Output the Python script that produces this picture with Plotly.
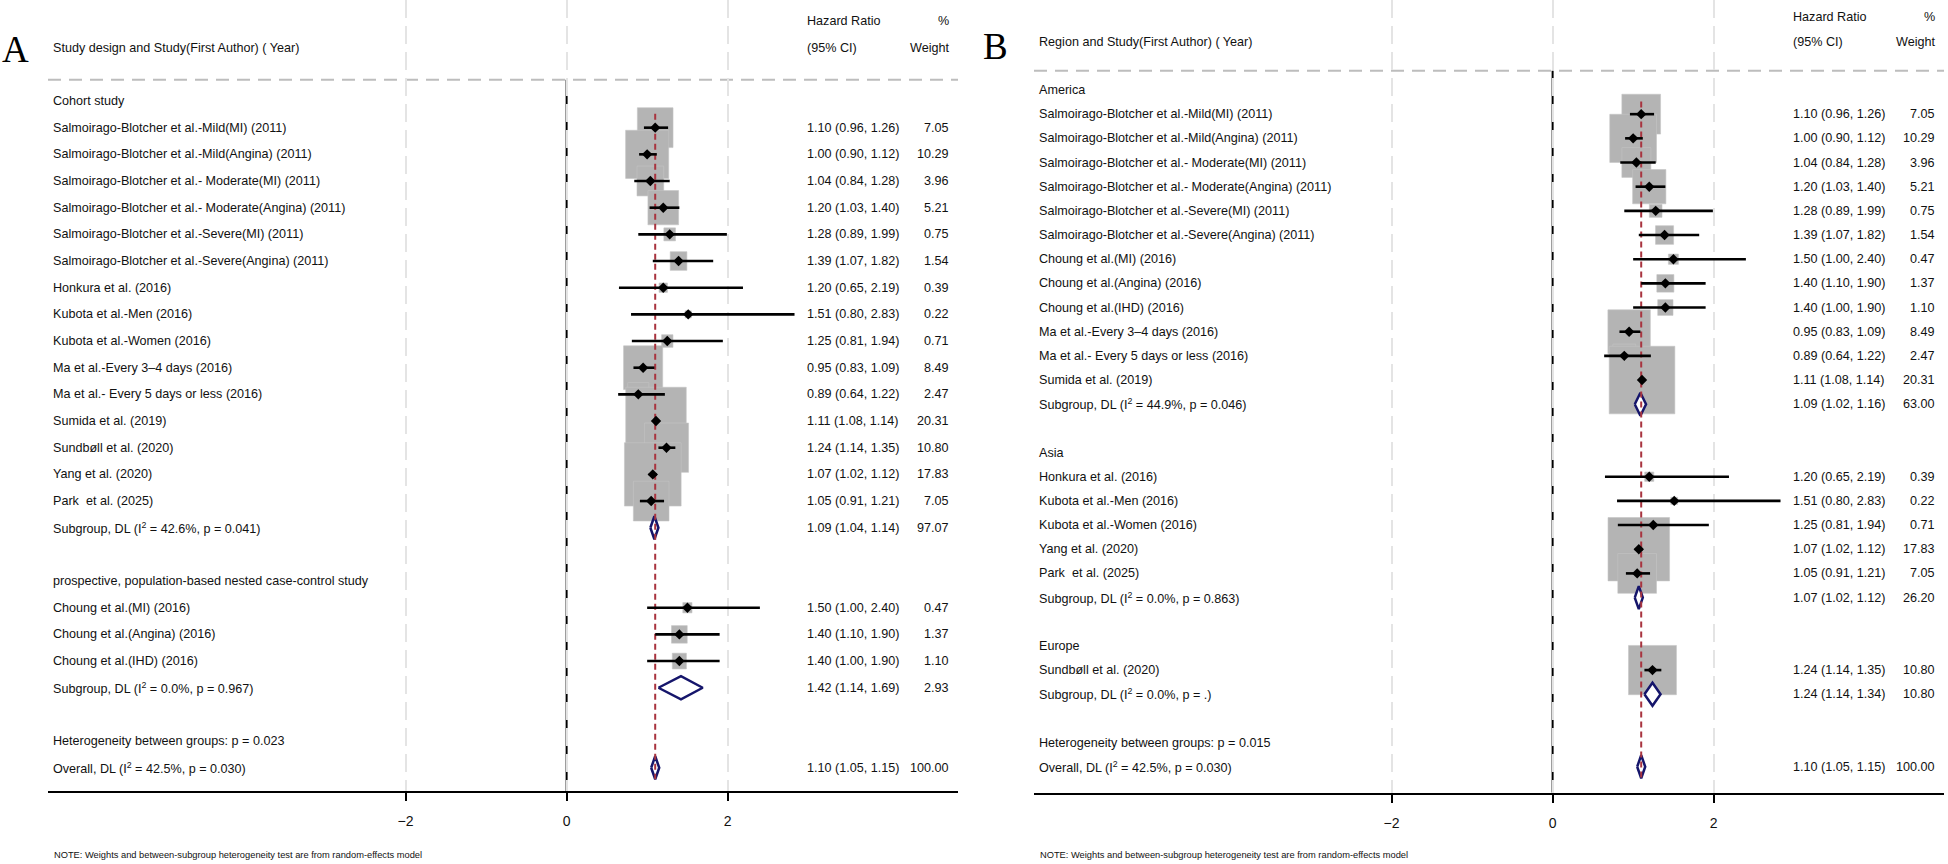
import math
import plotly.graph_objects as go

FONT = "Liberation Sans, Arial, sans-serif"
SERIF = "Liberation Serif, Times New Roman, serif"
TXT = "#111111"
NAVY = "#15156b"
RED = "#a8343f"
BOXGREY = "#b4b4b4"

# ---- panel A : by study design ----
A_labels = [
    "Cohort study",
    "Salmoirago-Blotcher et al.-Mild(MI) (2011)",
    "Salmoirago-Blotcher et al.-Mild(Angina) (2011)",
    "Salmoirago-Blotcher et al.- Moderate(MI) (2011)",
    "Salmoirago-Blotcher et al.- Moderate(Angina) (2011)",
    "Salmoirago-Blotcher et al.-Severe(MI) (2011)",
    "Salmoirago-Blotcher et al.-Severe(Angina) (2011)",
    "Honkura et al. (2016)",
    "Kubota et al.-Men (2016)",
    "Kubota et al.-Women (2016)",
    "Ma et al.-Every 3\u20134 days (2016)",
    "Ma et al.- Every 5 days or less (2016)",
    "Sumida et al. (2019)",
    "Sundb\u00f8ll et al. (2020)",
    "Yang et al. (2020)",
    "Park  et al. (2025)",
    "Subgroup, DL (I<sup>2</sup> = 42.6%, p = 0.041)",
    "",
    "prospective, population-based nested case-control study",
    "Choung et al.(MI) (2016)",
    "Choung et al.(Angina) (2016)",
    "Choung et al.(IHD) (2016)",
    "Subgroup, DL (I<sup>2</sup> = 0.0%, p = 0.967)",
    "",
    "Heterogeneity between groups: p = 0.023",
    "Overall, DL (I<sup>2</sup> = 42.5%, p = 0.030)",
]
A_kind = ["head"] + ["study"] * 15 + ["sub", "blank", "head"] + ["study"] * 3 + \
         ["sub", "blank", "het", "overall"]
A_hr = [None, 1.10, 1.00, 1.04, 1.20, 1.28, 1.39, 1.20, 1.51, 1.25, 0.95, 0.89, 1.11, 1.24, 1.07, 1.05,
        1.09, None, None, 1.50, 1.40, 1.40, 1.42, None, None, 1.10]
A_lo = [None, 0.96, 0.90, 0.84, 1.03, 0.89, 1.07, 0.65, 0.80, 0.81, 0.83, 0.64, 1.08, 1.14, 1.02, 0.91,
        1.04, None, None, 1.00, 1.10, 1.00, 1.14, None, None, 1.05]
A_hi = [None, 1.26, 1.12, 1.28, 1.40, 1.99, 1.82, 2.19, 2.83, 1.94, 1.09, 1.22, 1.14, 1.35, 1.12, 1.21,
        1.14, None, None, 2.40, 1.90, 1.90, 1.69, None, None, 1.15]
A_wt = [None, 7.05, 10.29, 3.96, 5.21, 0.75, 1.54, 0.39, 0.22, 0.71, 8.49, 2.47, 20.31, 10.80, 17.83, 7.05,
        97.07, None, None, 0.47, 1.37, 1.10, 2.93, None, None, 100.00]

# ---- panel B : by region ----
B_labels = [
    "America",
    "Salmoirago-Blotcher et al.-Mild(MI) (2011)",
    "Salmoirago-Blotcher et al.-Mild(Angina) (2011)",
    "Salmoirago-Blotcher et al.- Moderate(MI) (2011)",
    "Salmoirago-Blotcher et al.- Moderate(Angina) (2011)",
    "Salmoirago-Blotcher et al.-Severe(MI) (2011)",
    "Salmoirago-Blotcher et al.-Severe(Angina) (2011)",
    "Choung et al.(MI) (2016)",
    "Choung et al.(Angina) (2016)",
    "Choung et al.(IHD) (2016)",
    "Ma et al.-Every 3\u20134 days (2016)",
    "Ma et al.- Every 5 days or less (2016)",
    "Sumida et al. (2019)",
    "Subgroup, DL (I<sup>2</sup> = 44.9%, p = 0.046)",
    "",
    "Asia",
    "Honkura et al. (2016)",
    "Kubota et al.-Men (2016)",
    "Kubota et al.-Women (2016)",
    "Yang et al. (2020)",
    "Park  et al. (2025)",
    "Subgroup, DL (I<sup>2</sup> = 0.0%, p = 0.863)",
    "",
    "Europe",
    "Sundb\u00f8ll et al. (2020)",
    "Subgroup, DL (I<sup>2</sup> = 0.0%, p = .)",
    "",
    "Heterogeneity between groups: p = 0.015",
    "Overall, DL (I<sup>2</sup> = 42.5%, p = 0.030)",
]
B_kind = ["head"] + ["study"] * 12 + ["sub", "blank", "head"] + ["study"] * 5 + \
         ["sub", "blank", "head", "study", "sub", "blank", "het", "overall"]
B_hr = [None, 1.10, 1.00, 1.04, 1.20, 1.28, 1.39, 1.50, 1.40, 1.40, 0.95, 0.89, 1.11, 1.09, None,
        None, 1.20, 1.51, 1.25, 1.07, 1.05, 1.07, None, None, 1.24, 1.24, None, None, 1.10]
B_lo = [None, 0.96, 0.90, 0.84, 1.03, 0.89, 1.07, 1.00, 1.10, 1.00, 0.83, 0.64, 1.08, 1.02, None,
        None, 0.65, 0.80, 0.81, 1.02, 0.91, 1.02, None, None, 1.14, 1.14, None, None, 1.05]
B_hi = [None, 1.26, 1.12, 1.28, 1.40, 1.99, 1.82, 2.40, 1.90, 1.90, 1.09, 1.22, 1.14, 1.16, None,
        None, 2.19, 2.83, 1.94, 1.12, 1.21, 1.12, None, None, 1.35, 1.34, None, None, 1.15]
B_wt = [None, 7.05, 10.29, 3.96, 5.21, 0.75, 1.54, 0.47, 1.37, 1.10, 8.49, 2.47, 20.31, 63.00, None,
        None, 0.39, 0.22, 0.71, 17.83, 7.05, 26.20, None, None, 10.80, 10.80, None, None, 100.00]

x_ticks = [-2, 0, 2]
note = "NOTE: Weights and between-subgroup heterogeneity test are from random-effects model"

W, H = 1948, 864
X_RANGE = [-6.44, 4.86]
PX_PER_UNIT = 910 / (X_RANGE[1] - X_RANGE[0])
LABEL_X, HR_X, WT_X = -6.385, 2.977, 4.76


def draw_panel(fig, sfx, labels, kind, hr, lo, hi, wt, y0, row_px, axis_px, box_px, letter, letter_xy,
               header, x_left):
    xr = "x" + sfx
    yr = "y" + sfx
    xa = "xaxis" + sfx
    ya = "yaxis" + sfx

    top = -y0 / row_px
    bottom = (axis_px - y0) / row_px
    fig.layout[xa] = dict(domain=[x_left / W, (x_left + 910) / W], range=X_RANGE, tickvals=x_ticks,
                          showline=True, linecolor="black", linewidth=2, ticks="outside", ticklen=8,
                          tickwidth=2, tickcolor="black", showgrid=True, gridcolor="#e4e4e4", gridwidth=2,
                          griddash="18px,8px", zeroline=False, ticklabelstandoff=8,
                          tickfont=dict(family=FONT, size=14, color=TXT), anchor=yr, fixedrange=True)
    fig.layout[ya] = dict(domain=[1 - axis_px / H, 1], range=[bottom, top], visible=False, anchor=xr,
                          fixedrange=True)

    diam_h = 11.5 / row_px
    i_over = kind.index("overall")
    overall = hr[i_over]

    # weight boxes
    for i, k in enumerate(kind):
        if k != "study":
            continue
        hw = box_px * math.sqrt(wt[i]) / PX_PER_UNIT / 2
        hh = 15.0 * math.sqrt(wt[i]) / row_px / 2
        fig.add_shape(type="rect", xref=xr, yref=yr, x0=hr[i] - hw, x1=hr[i] + hw, y0=i - hh, y1=i + hh,
                      fillcolor=BOXGREY, line=dict(color="#c4c4c4", width=0.6), layer="below")

    # header separator and line of no effect
    fig.add_shape(type="line", xref=xr + " domain", yref=yr, x0=0, x1=1, y0=-0.8, y1=-0.8,
                  line=dict(color="#bdbdbd", width=2, dash="13px,8px"), layer="below")
    fig.add_shape(type="line", xref=xr, yref=yr, x0=0, x1=0, y0=-0.8, y1=bottom,
                  line=dict(color="black", width=2), layer="below")

    # pooled diamonds
    dx, dy = [], []
    for i, k in enumerate(kind):
        if k in ("sub", "overall"):
            dx += [lo[i], hr[i], hi[i], hr[i], lo[i], None]
            dy += [i, i - diam_h, i, i + diam_h, i, None]
    fig.add_trace(go.Scatter(x=dx, y=dy, xaxis=xr, yaxis=yr, mode="lines", fill="toself", fillcolor="white",
                             line=dict(color=NAVY, width=2.5), hoverinfo="skip", showlegend=False))

    # overall effect line
    fig.add_trace(go.Scatter(x=[overall, overall], y=[0.48, i_over + diam_h], xaxis=xr, yaxis=yr, mode="lines",
                             line=dict(color=RED, width=2, dash="6px,4px"), hoverinfo="skip", showlegend=False))

    # study CIs and point estimates
    cx, cy, px, py = [], [], [], []
    for i, k in enumerate(kind):
        if k == "study":
            cx += [lo[i], hi[i], None]
            cy += [i, i, None]
            px.append(hr[i])
            py.append(i)
    fig.add_trace(go.Scatter(x=cx, y=cy, xaxis=xr, yaxis=yr, mode="lines", line=dict(color="black", width=2.6),
                             hoverinfo="skip", showlegend=False))
    fig.add_trace(go.Scatter(x=px, y=py, xaxis=xr, yaxis=yr, mode="markers",
                             marker=dict(symbol="diamond", size=8, color="black"), showlegend=False))

    # text columns
    tf = dict(family=FONT, size=12.6, color=TXT)

    def txt(x, y, s, anchor="left"):
        fig.add_annotation(x=x, y=y, xref=xr, yref=yr, text=s, showarrow=False, xanchor=anchor,
                           yanchor="middle", font=tf, borderpad=0)

    txt(LABEL_X, -2, header)
    txt(HR_X, -3, "Hazard Ratio")
    txt(HR_X, -2, "(95% CI)")
    txt(WT_X, -3, "%", "right")
    txt(WT_X, -2, "Weight", "right")
    for i, s in enumerate(labels):
        if s:
            txt(LABEL_X, i, s)
        if hr[i] is not None:
            txt(HR_X, i, f"{hr[i]:.2f} ({lo[i]:.2f}, {hi[i]:.2f})")
            txt(WT_X, i, f"{wt[i]:.2f}", "right")

    fig.add_annotation(x=letter_xy[0] / W, y=1 - letter_xy[1] / H, xref="paper", yref="paper", text=letter,
                       showarrow=False, xanchor="center", yanchor="middle",
                       font=dict(family=SERIF, size=37, color="black"))
    fig.add_annotation(x=(x_left + 4) / W, y=1 - 855 / H, xref="paper", yref="paper", text=note,
                       showarrow=False, xanchor="left", yanchor="middle",
                       font=dict(family=FONT, size=9.3, color=TXT))


fig = go.Figure()
draw_panel(fig, "", A_labels, A_kind, A_hr, A_lo, A_hi, A_wt, 101, 26.67, 791, 13.43, "A", (15, 49),
           "Study design and Study(First Author) ( Year)", 48)
draw_panel(fig, "2", B_labels, B_kind, B_hr, B_lo, B_hi, B_wt, 90, 24.17, 792.7, 14.57, "B", (995, 47),
           "Region and Study(First Author) ( Year)", 1034)

fig.update_layout(width=W, height=H, margin=dict(l=0, r=0, t=0, b=0), paper_bgcolor="white",
                  plot_bgcolor="white", showlegend=False, font=dict(family=FONT, color=TXT))

# page body margin would push the fixed-size figure off the window
fig.write_html("out.html", config={"displayModeBar": False},
               post_script="document.body.style.margin='0';")
